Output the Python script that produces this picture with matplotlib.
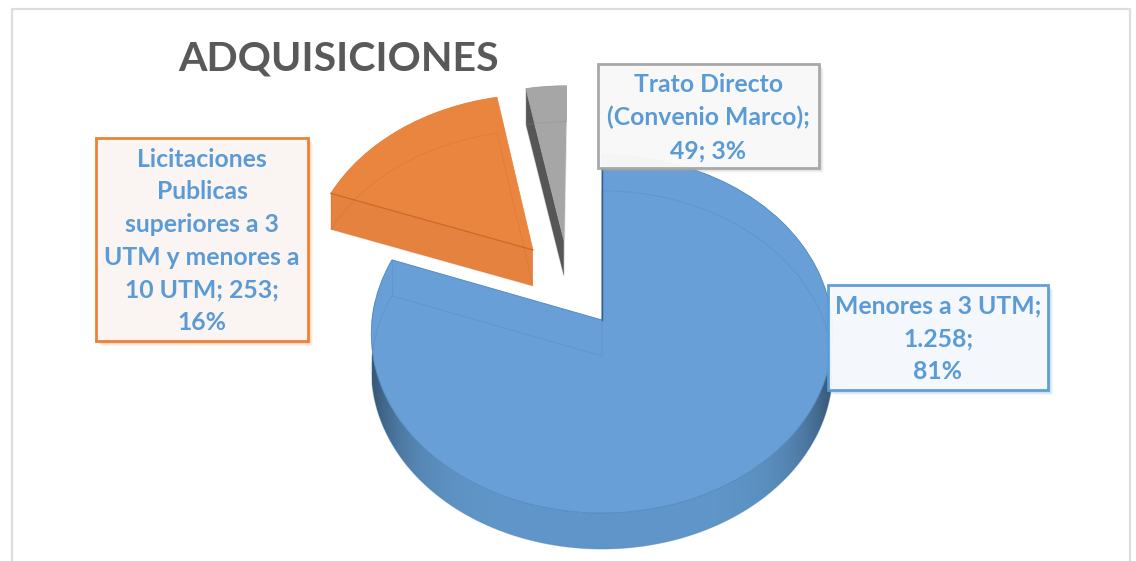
import numpy as np
import matplotlib
matplotlib.use("Agg")
import matplotlib.pyplot as plt
from matplotlib.colors import to_rgb
from matplotlib.patches import Rectangle, Wedge
from matplotlib.transforms import Transform

CATEGORIES = ["Menores a 3 UTM", "Licitaciones Publicas superiores a 3 UTM y menores a 10 UTM", "Trato Directo (Convenio Marco)"]
VALUES = [1258, 253, 49]
LABELS = ["Menores a 3 UTM;\n1.258;\n81%",
          "Licitaciones\nPublicas\nsuperiores a 3\nUTM y menores a\n10 UTM; 253;\n16%",
          "Trato Directo\n(Convenio Marco);\n49; 3%"]
TITLE = "ADQUISICIONES"

TOP_COLORS = ["#689FD6", "#E9853F", "#A6A6A6"]
RIM_COLORS = ["#4A86C0", "#E9853F", "#A6A6A6"]
LINE_COLORS = ["#4A86C0", "#C96A26", "#8A8A8A"]
GHOST_ALPHA = [0.32, 0.28, 0.3]
SIDE_COLORS = ["#6096C9", "#E5823F", "#565656"]
EDGE_COLORS = ["#5B9BD5", "#ED7D31", "#A5A5A5"]
FILL_COLORS = ["#F6F9FD", "#FBF7F5", "#F9F9F9"]
OFFSETS = [(0, 0), (-0.31, 0.406), (-0.172, 0.466)]
BOXES = [(828, 285, 220, 105), (96, 138, 212, 203), (598, 64, 221, 104)]

APEX_X, APEX_Y, SCALE_X, SCALE_Y, PERSP, DEPTH = 602, 320, 230, 178, 0.078, 36


def project(xy, drop=0.0):
    xy = np.atleast_2d(xy)
    w = 1 + PERSP * xy[:, 1]
    return np.column_stack((APEX_X + SCALE_X * xy[:, 0] / w,
                            APEX_Y - SCALE_Y * xy[:, 1] / w + drop))


class Persp(Transform):
    input_dims = output_dims = 2
    is_affine = False
    has_inverse = False

    def __init__(self, drop=0.0):
        super().__init__()
        self.drop = drop

    def transform_non_affine(self, values):
        return project(values, self.drop)


fig = plt.figure(figsize=(11.36, 5.61), dpi=100, facecolor="white")
ax = fig.add_axes([0, 0, 1, 1])
wedges, _ = ax.pie(VALUES, startangle=90, counterclock=False, radius=1)
ax.set_aspect("auto")
ax.set_xlim(0, 1136)
ax.set_ylim(561, 0)
ax.axis("off")

# chart frame
ax.plot([11.5, 11.5, 1130, 1130], [570, 8.5, 8.5, 570], color="#DDDDDD", lw=1.6, zorder=0.5)


def arc(center, t1, t2, n):
    th = np.radians(np.linspace(t1, t2, n))
    return np.column_stack((center[0] + np.cos(th), center[1] + np.sin(th)))


for i, w in enumerate(wedges):
    w.set_center(OFFSETS[i])
    z = 2 + i
    t1, t2 = w.theta1, w.theta2
    # outer wall
    pts = arc(OFFSETS[i], t1, t2, 400)
    band = np.vstack((project(pts), project(pts, DEPTH)[::-1]))
    if i == 0:
        xs = np.linspace(-1, 1, 400)
        shade = 1 - 0.42 * np.abs(xs) ** 6
        grad = (np.array(to_rgb(SIDE_COLORS[i]))[None, None, :] * shade[None, :, None])
        im = ax.imshow(grad, extent=(APEX_X - SCALE_X, APEX_X + SCALE_X, 570, 300),
                       aspect="auto", interpolation="bilinear", zorder=z)
        im.set_clip_path(plt.Polygon(band, closed=True, transform=ax.transData))
    else:
        ax.add_patch(plt.Polygon(band, closed=True, fc=SIDE_COLORS[i], ec="none", zorder=z))
    # radial wall on the visible side
    c = np.array([OFFSETS[i]])
    p = pts[-1:]
    wall = np.vstack((project(c), project(p), project(p, DEPTH), project(c, DEPTH)))
    ax.add_patch(plt.Polygon(wall, closed=True, fc=SIDE_COLORS[i], ec="none", zorder=z + 0.1))
    # top face
    w.set_transform(Persp(0) + ax.transData)
    w.set(facecolor=TOP_COLORS[i], edgecolor=RIM_COLORS[i], linewidth=0.6, zorder=z + 0.2)
    # faint hidden outline seen through the translucent face
    ghost = Wedge(OFFSETS[i], w.r, t1, t2, fc="none", ec=LINE_COLORS[i], lw=0.8, alpha=GHOST_ALPHA[i],
                  transform=Persp(DEPTH) + ax.transData, zorder=z + 0.3)
    ax.add_patch(ghost)
    seg = np.vstack((project(pts[-1]), project(pts[-1], DEPTH))) if i != 0 else \
        np.vstack((project(pts[0]), project(pts[0], DEPTH)))
    ax.plot(seg[:, 0], seg[:, 1], color=LINE_COLORS[i], lw=0.7, alpha=GHOST_ALPHA[i], zorder=z + 0.3)
    if i == 1:
        # the front top edge of the orange slice is clearly marked
        seg = np.vstack((project(c), project(p)))
        ax.plot(seg[:, 0], seg[:, 1], color=LINE_COLORS[i], lw=0.9, zorder=z + 0.35)

# dark inner edge of the large slice along the vertical cut
seg = project(np.array([[0, 0.0], [0, 0.92]]))
ax.plot(seg[:, 0] - 0.5, seg[:, 1], color="#2F5F8C", lw=1.0, zorder=2.35)

# data labels
for i, (x, y, bw, bh) in enumerate(BOXES):
    for s, a in zip((7, 5, 3), (0.07, 0.10, 0.14)):
        ax.add_patch(Rectangle((x + 1 + s / 2, y + 1 + s / 2), bw, bh, fc=EDGE_COLORS[i], ec="none",
                               alpha=a, zorder=7 + i))
    ax.add_patch(Rectangle((x, y), bw, bh, fc=FILL_COLORS[i], ec=EDGE_COLORS[i], lw=2.0, alpha=0.96,
                           zorder=7.1 + i))
    ax.text(x + bw / 2, y + bh / 2 + 1.5, LABELS[i], ha="center", va="center", ma="center",
            family="Lato", weight="bold", fontsize=17.8, color="#5B9BD5", linespacing=1.51,
            zorder=7.2 + i)

ax.text(339, 59, TITLE, ha="center", va="center", family="Lato", weight="bold",
        fontsize=29.6, color="#595959", zorder=10)

ax.set_xlim(0, 1136)
ax.set_ylim(561, 0)
fig.savefig("out.png", dpi=100)
